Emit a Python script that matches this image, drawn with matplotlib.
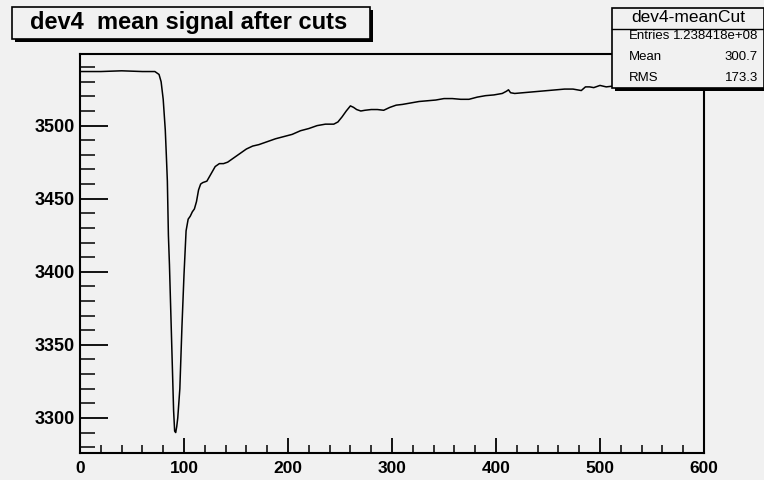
import numpy as np
import matplotlib.pyplot as plt
from matplotlib.patches import Rectangle
from matplotlib.ticker import MultipleLocator

# histogram contents (bin x, mean signal)
x_vals = [0, 20, 40, 60, 72, 76, 78, 80, 82, 83, 84, 85, 86, 88, 90, 91, 92, 93, 94,
          96, 98, 100, 102, 104, 106, 108, 110, 112, 114, 116, 118, 122, 126, 130, 134,
          138, 142, 148, 154, 160, 166, 172, 180, 188, 196, 204, 212, 220, 228, 236,
          244, 248, 252, 256, 260, 263, 266, 270, 274, 280, 286, 292, 298, 304, 310,
          318, 326, 334, 342, 350, 358, 366, 374, 382, 390, 398, 406, 410, 412, 414,
          418, 426, 434, 442, 450, 458, 466, 474, 482, 486, 490, 494, 500, 506, 512,
          530, 560, 600]
y_vals = [3537, 3537, 3537.5, 3537, 3537, 3535, 3530, 3518, 3497, 3480, 3462, 3425,
          3405, 3355, 3305, 3291, 3290, 3294, 3300, 3320, 3362, 3398, 3428, 3436,
          3438, 3441, 3443, 3448, 3456, 3460, 3461, 3462, 3467, 3472, 3474, 3474,
          3475, 3478, 3481, 3484, 3486, 3487, 3489, 3491, 3492.5, 3494, 3496.5, 3498,
          3500, 3501, 3501, 3502.5, 3506, 3510, 3513.5, 3512.5, 3511, 3510, 3510.5,
          3511, 3511, 3510.5, 3512.5, 3514, 3514.5, 3515.5, 3516.5, 3517, 3517.5,
          3518.5, 3518.5, 3518, 3518, 3519.5, 3520.5, 3521, 3522, 3523.5, 3524.5,
          3522.5, 3522, 3522.5, 3523, 3523.5, 3524, 3524.5, 3525, 3525, 3524, 3526.5,
          3526.5, 3526, 3527.5, 3526.5, 3527, 3528, 3529, 3530]

title = "dev4  mean signal after cuts"
stats_name = "dev4-meanCut"
stats_rows = [("Entries", "1.238418e+08"), ("Mean", "300.7"), ("RMS", "173.3")]

bg = '#f1f1f1'
plt.rcParams['font.family'] = ['Liberation Sans', 'DejaVu Sans']

W, H = 764, 480
fig = plt.figure(figsize=(W / 100, H / 100), dpi=100, facecolor=bg)
ax = fig.add_axes([80 / W, 1 - 453 / H, 624 / W, 399 / H], facecolor=bg)

ax.plot(x_vals, y_vals, color='black', lw=1.1)
ax.set_xlim(0, 600)
ax.set_ylim(3276, 3549)

ax.xaxis.set_major_locator(MultipleLocator(100))
ax.xaxis.set_minor_locator(MultipleLocator(20))
ax.yaxis.set_major_locator(MultipleLocator(50))
ax.yaxis.set_minor_locator(MultipleLocator(10))
ax.tick_params(axis='x', which='major', direction='in', length=11, width=1.3,
               top=False, labelsize=12.5, pad=6)
ax.tick_params(axis='x', which='minor', direction='in', length=6, width=1.1, top=False)
ax.tick_params(axis='y', which='major', direction='in', length=20, width=1.3,
               right=False, labelsize=13, pad=4)
ax.tick_params(axis='y', which='minor', direction='in', length=11, width=1.1, right=False)
for lab in ax.get_xticklabels() + ax.get_yticklabels():
    lab.set_fontweight('bold')
for s in ax.spines.values():
    s.set_linewidth(1.5)


def px_rect(x0, y0, x1, y1, **kw):
    # rectangle in pixel coords measured from the top-left of the image
    r = Rectangle((x0 / W, 1 - y1 / H), (x1 - x0) / W, (y1 - y0) / H,
                  transform=fig.transFigure, **kw)
    fig.patches.append(r)


# title box with drop shadow
px_rect(15, 10, 373, 42, facecolor='black', edgecolor='none', zorder=5)
px_rect(12, 7, 370, 39, facecolor=bg, edgecolor='black', lw=1.2, zorder=6)
fig.text(30 / W, 1 - 23 / H, title, fontsize=17, fontweight='bold',
         va='center', ha='left', zorder=7)

# stats box
px_rect(615, 11, 767, 91, facecolor='black', edgecolor='none', zorder=5)
px_rect(612, 8, 764, 88, facecolor=bg, edgecolor='black', lw=1.2, zorder=6)
fig.add_artist(plt.Line2D([612 / W, 764 / W], [1 - 29 / H, 1 - 29 / H],
                          color='black', lw=1, transform=fig.transFigure, zorder=7))
fig.text(688 / W, 1 - 18 / H, stats_name, fontsize=12.5, ha='center', va='center', zorder=7)
for i, (k, v) in enumerate(stats_rows):
    yy = 1 - (36 + 21 * i) / H
    fig.text(629 / W, yy, k, fontsize=9.5, ha='left', va='center', zorder=7)
    fig.text(758 / W, yy, v, fontsize=9.5, ha='right', va='center', zorder=7)

fig.savefig('out.png', dpi=100, facecolor=bg)
